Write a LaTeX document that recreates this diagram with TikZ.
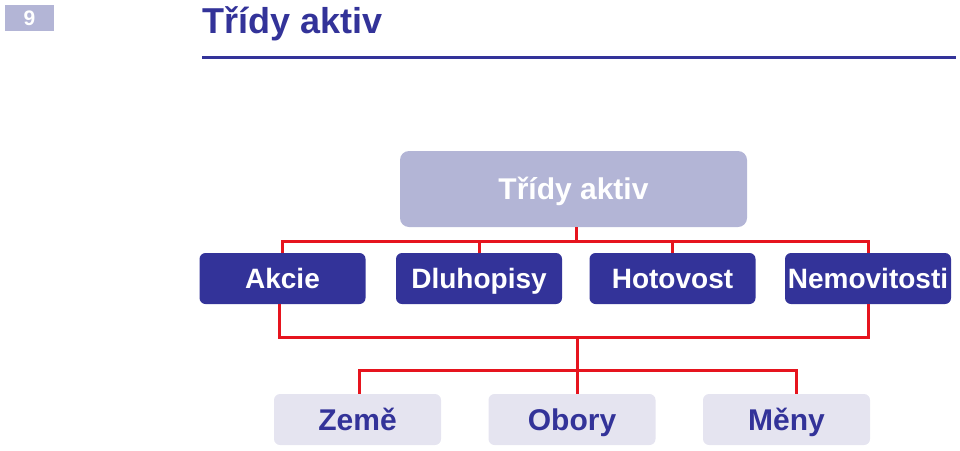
\documentclass[tikz,border=0pt]{standalone}
\usepackage{fontspec}
\setmainfont{Liberation Sans}
\usepackage{xcolor}
\definecolor{NavyBlue}   {RGB}{51,  51, 153}
\definecolor{Lavender}   {RGB}{179, 181, 214}
\definecolor{PaleLilac}  {RGB}{229, 228, 240}
\definecolor{LineRed}    {RGB}{230,  20,  30}
\usetikzlibrary{positioning}

\begin{document}
\begin{tikzpicture}[
  x=1pt, y=-1pt,
  font=\bfseries,
  rootbox/.style={
    fill=Lavender, text=white,
    rounded corners=9pt,
    minimum width=347pt,
    minimum height=76pt,
    font=\fontsize{30}{30}\bfseries,
    text height=21.5pt, text depth=0pt
  },
  classbox/.style={
    fill=NavyBlue, text=white,
    rounded corners=6pt,
    minimum width=166pt,
    minimum height=51pt,
    inner sep=0pt,
    font=\fontsize{28}{28}\bfseries,
    text height=20pt, text depth=0pt
  },
  subbox/.style={
    fill=PaleLilac, text=NavyBlue,
    rounded corners=6pt,
    minimum width=167pt,
    minimum height=51pt,
    inner sep=0pt,
    font=\fontsize{30}{30}\bfseries,
    text height=21.5pt, text depth=0pt
  },
  link/.style={
    draw=LineRed, line width=3pt,
    line join=miter}
]
\useasboundingbox (0,0) rectangle (960,450);

% slide header
\node[fill=Lavender, text=white, minimum width=49pt, minimum height=26pt,
  inner sep=0pt, text height=15pt, text depth=0pt,
  font=\fontsize{21}{21}\bfseries] (pageno) at (29.5,18) {9};
\node[anchor=base west, inner sep=0pt, text=NavyBlue,
  font=\fontsize{36}{36}\bfseries] (title) at (202,33) {Třídy aktiv};
\coordinate (ruleL) at (202,57);
\coordinate (ruleR) at (956,57);
\draw[NavyBlue, line width=3pt] (ruleL) -- (ruleR);

% boxes
\node[rootbox] (root) at (573.5,189) {Třídy aktiv};

\node[classbox] (akcie) at (282.5,278.5) {Akcie};
\node[classbox] (dluh)  at (479,278.5)   {Dluhopisy};
\node[classbox] (hotov) at (672.5,278.5) {Hotovost};
\node[classbox] (nemov) at (868,278.5)   {Nemovitosti};

\node[subbox] (zeme)  at (357.5,419.5) {Země};
\node[subbox] (obory) at (572,419.5)   {Obory};
\node[subbox] (meny)  at (786.5,419.5) {Měny};

% connectors
\coordinate (busA) at (576,241);
\coordinate (busB) at (577,337);
\coordinate (busCl) at (359,370);
\coordinate (busCr) at (796,370);

\draw[link] (root.south -| busA) -- (busA);
\draw[link] (akcie.north) |- (busA) -| (nemov.north);
\draw[link] (dluh.north) -- (dluh.north |- busA);
\draw[link] (hotov.north) -- (hotov.north |- busA);

\draw[link] (akcie.south -| 279,0) |- (busB) -| (nemov.south);
\draw[link] (busB) -- (busB |- obory.north);
\draw[link] (busCl |- zeme.north) -- (busCl) -- (busCr)
  -- (busCr |- meny.north);
\end{tikzpicture}
\end{document}
